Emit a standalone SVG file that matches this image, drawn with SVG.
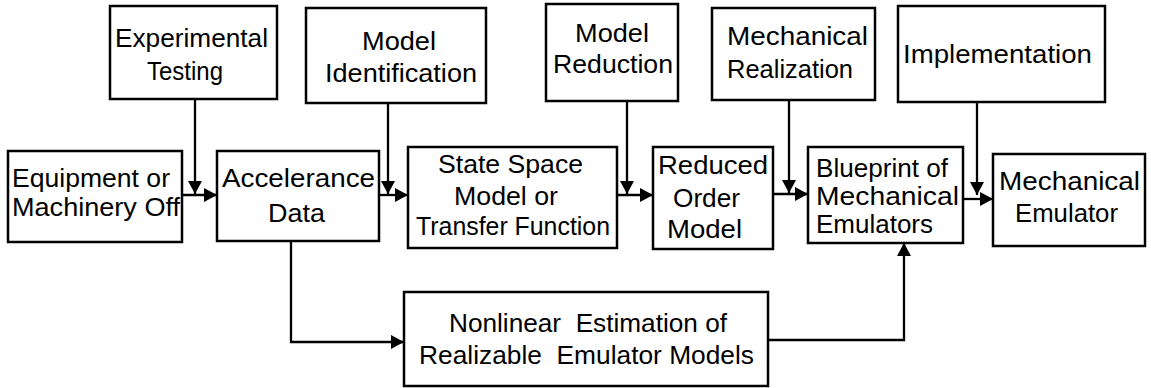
<svg xmlns="http://www.w3.org/2000/svg" width="1151" height="388" viewBox="0 0 1151 388">
  <style>
    .box { fill: #fff; stroke: #000; stroke-width: 2.5; }
    .lbl { font-family: "Liberation Sans", Arial, sans-serif; font-size: 25px; fill: #000; }
    .wire { fill: none; stroke: #000; stroke-width: 2.3; }
  </style>
  <defs>
    <marker id="arrow" markerUnits="userSpaceOnUse" markerWidth="13" markerHeight="14" refX="13" refY="7" orient="auto">
      <path d="M0,0 L13,7 L0,14 z" fill="#000"/>
    </marker>
  </defs>
  <rect width="1151" height="388" fill="#fff"/>

  <!-- connectors -->
  <g id="connectors">
    <path class="wire" d="M182,195 H217" marker-end="url(#arrow)"/>
    <path class="wire" d="M195,99 V194" marker-end="url(#arrow)"/>
    <path class="wire" d="M379,195 H408" marker-end="url(#arrow)"/>
    <path class="wire" d="M388,103 V194" marker-end="url(#arrow)"/>
    <path class="wire" d="M617,195 H653" marker-end="url(#arrow)"/>
    <path class="wire" d="M627,101 V194" marker-end="url(#arrow)"/>
    <path class="wire" d="M773,194 H808" marker-end="url(#arrow)"/>
    <path class="wire" d="M789,100 V193" marker-end="url(#arrow)"/>
    <path class="wire" d="M963,199 H993" marker-end="url(#arrow)"/>
    <path class="wire" d="M977,102 V195" marker-end="url(#arrow)"/>
    <path class="wire" d="M291,241 V342 H404" marker-end="url(#arrow)"/>
    <path class="wire" d="M768,340 H904 V243" marker-end="url(#arrow)"/>
  </g>

  <g id="experimental-testing">
    <rect class="box" x="110" y="6" width="167" height="93"/>
    <text class="lbl" x="115" y="47" textLength="153" lengthAdjust="spacingAndGlyphs">Experimental</text>
    <text class="lbl" x="147" y="80" textLength="76" lengthAdjust="spacingAndGlyphs">Testing</text>
  </g>

  <g id="equipment">
    <rect class="box" x="8" y="151" width="174" height="91"/>
    <text class="lbl" x="12" y="187" textLength="158" lengthAdjust="spacingAndGlyphs">Equipment or</text>
    <text class="lbl" x="12" y="216" textLength="168" lengthAdjust="spacingAndGlyphs">Machinery Off</text>
  </g>

  <g id="accelerance-data">
    <rect class="box" x="217" y="151" width="162" height="90"/>
    <text class="lbl" x="222" y="187" textLength="153" lengthAdjust="spacingAndGlyphs">Accelerance</text>
    <text class="lbl" x="268" y="222" textLength="57" lengthAdjust="spacingAndGlyphs">Data</text>
  </g>

  <g id="model-identification">
    <rect class="box" x="306" y="8" width="180" height="95"/>
    <text class="lbl" x="362" y="50" textLength="74" lengthAdjust="spacingAndGlyphs">Model</text>
    <text class="lbl" x="325" y="82" textLength="152" lengthAdjust="spacingAndGlyphs">Identification</text>
  </g>

  <g id="state-space">
    <rect class="box" x="408" y="147" width="209" height="101"/>
    <text class="lbl" x="438" y="173" textLength="145" lengthAdjust="spacingAndGlyphs">State Space</text>
    <text class="lbl" x="454" y="205" textLength="104" lengthAdjust="spacingAndGlyphs">Model or</text>
    <text class="lbl" x="416" y="235" textLength="194" lengthAdjust="spacingAndGlyphs">Transfer Function</text>
  </g>

  <g id="model-reduction">
    <rect class="box" x="546" y="4" width="132" height="97"/>
    <text class="lbl" x="575" y="42" textLength="74" lengthAdjust="spacingAndGlyphs">Model</text>
    <text class="lbl" x="553" y="73" textLength="120" lengthAdjust="spacingAndGlyphs">Reduction</text>
  </g>

  <g id="reduced-order-model">
    <rect class="box" x="653" y="147" width="120" height="102"/>
    <text class="lbl" x="658" y="174" textLength="110" lengthAdjust="spacingAndGlyphs">Reduced</text>
    <text class="lbl" x="673" y="207" textLength="67" lengthAdjust="spacingAndGlyphs">Order</text>
    <text class="lbl" x="667" y="238" textLength="75" lengthAdjust="spacingAndGlyphs">Model</text>
  </g>

  <g id="mechanical-realization">
    <rect class="box" x="712" y="8" width="163" height="92"/>
    <text class="lbl" x="727" y="45" textLength="141" lengthAdjust="spacingAndGlyphs">Mechanical</text>
    <text class="lbl" x="727" y="78" textLength="126" lengthAdjust="spacingAndGlyphs">Realization</text>
  </g>

  <g id="blueprint">
    <rect class="box" x="808" y="147" width="155" height="96"/>
    <text class="lbl" x="816" y="177" textLength="132" lengthAdjust="spacingAndGlyphs">Blueprint of</text>
    <text class="lbl" x="816" y="205" textLength="143" lengthAdjust="spacingAndGlyphs">Mechanical</text>
    <text class="lbl" x="816" y="233" textLength="117" lengthAdjust="spacingAndGlyphs">Emulators</text>
  </g>

  <g id="implementation">
    <rect class="box" x="898" y="6" width="207" height="96"/>
    <text class="lbl" x="903" y="63" textLength="189" lengthAdjust="spacingAndGlyphs">Implementation</text>
  </g>

  <g id="mechanical-emulator">
    <rect class="box" x="993" y="154" width="152" height="92"/>
    <text class="lbl" x="999" y="190" textLength="141" lengthAdjust="spacingAndGlyphs">Mechanical</text>
    <text class="lbl" x="1015" y="222" textLength="103" lengthAdjust="spacingAndGlyphs">Emulator</text>
  </g>

  <g id="nonlinear-estimation">
    <rect class="box" x="404" y="292" width="364" height="94"/>
    <text class="lbl" x="449" y="332" textLength="278" lengthAdjust="spacingAndGlyphs" xml:space="preserve">Nonlinear  Estimation of</text>
    <text class="lbl" x="419" y="364" textLength="335" lengthAdjust="spacingAndGlyphs" xml:space="preserve">Realizable  Emulator Models</text>
  </g>
</svg>
